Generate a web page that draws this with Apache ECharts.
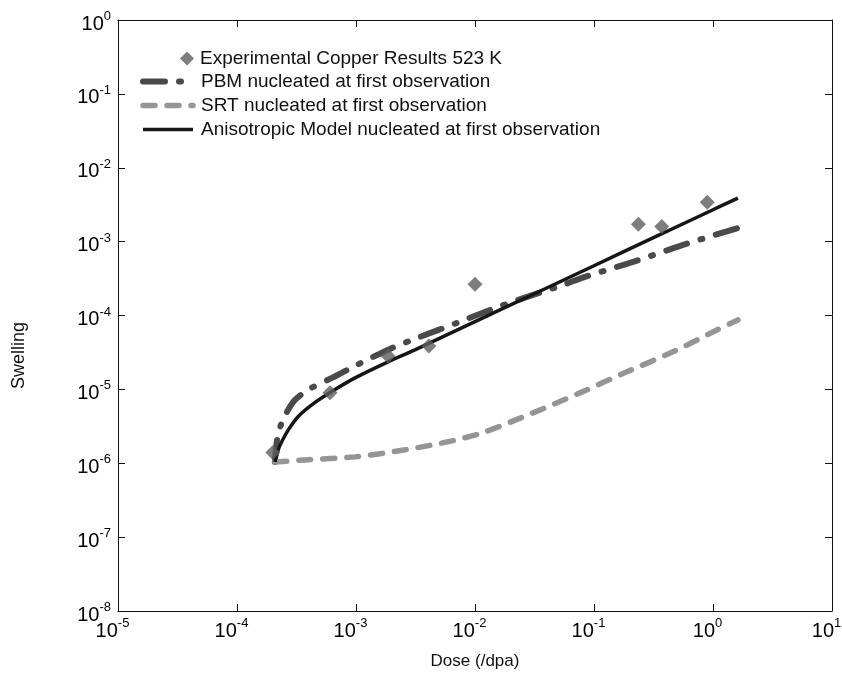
<!DOCTYPE html>
<html>
<head>
<meta charset="utf-8">
<script src="https://cdn.jsdelivr.net/npm/echarts@6/dist/echarts.min.js"></script>
<style>
  html, body { margin: 0; padding: 0; background: #fff; }
  #chart { width: 842px; height: 681px; }
</style>
</head>
<body>
<div id="chart"></div>
<script>
  // experimental points
  const expDose = [2.0e-4, 6.05e-4, 1.86e-3, 4.10e-3, 1.0e-2, 0.236, 0.371, 0.895];
  const expSwelling = [1.40e-6, 8.97e-6, 2.84e-5, 3.88e-5, 2.64e-4, 1.72e-3, 1.60e-3, 3.41e-3];

  // PBM model
  const pbmDose = [2.08e-4, 2.17e-4, 2.34e-4, 2.63e-4, 3.07e-4, 4.10e-4, 6.28e-4, 9.82e-4, 1.93e-3, 3.45e-3, 7.06e-3, 1.34e-2, 2.74e-2, 5.48e-2, 8.39e-2, 0.213, 0.560, 1.62];
  const pbmSwelling = [1.04e-6, 2.07e-6, 3.31e-6, 4.96e-6, 7.21e-6, 1.02e-5, 1.43e-5, 2.08e-5, 3.53e-5, 5.13e-5, 7.94e-5, 1.19e-4, 1.79e-4, 2.59e-4, 3.33e-4, 5.31e-4, 9.02e-4, 1.53e-3];

  // SRT model
  const srtDose = [2.08e-4, 3.72e-4, 9.82e-4, 2.58e-3, 6.41e-3, 1.21e-2, 3.07e-2, 7.62e-2, 0.189, 0.461, 1.08, 1.62];
  const srtSwelling = [1.04e-6, 1.11e-6, 1.22e-6, 1.52e-6, 2.01e-6, 2.66e-6, 4.81e-6, 8.97e-6, 1.73e-5, 3.22e-5, 6.38e-5, 8.71e-5];

  // anisotropic model
  const anisoDose = [2.08e-4, 2.22e-4, 2.38e-4, 2.70e-4, 3.27e-4, 4.25e-4, 6.25e-4, 9.82e-4, 1.86e-3, 3.16e-3, 1.0e-2, 3.16e-2, 0.1, 0.316, 1.0, 1.62];
  const anisoSwelling = [1.04e-6, 1.52e-6, 1.97e-6, 2.83e-6, 4.29e-6, 6.17e-6, 9.33e-6, 1.43e-5, 2.36e-5, 3.45e-5, 8.26e-5, 1.97e-4, 4.72e-4, 1.13e-3, 2.70e-3, 3.89e-3];

  const names = [
    'Experimental Copper Results 523 K',
    'PBM nucleated at first observation',
    'SRT nucleated at first observation',
    'Anisotropic Model nucleated at first observation'
  ];

  const FONT = '"Liberation Sans", Arial, sans-serif';

  const pbmStyle = { color: '#4a4a4a', width: 6, type: [22, 14, 2, 14], cap: 'round' };
  const srtStyle = { color: '#959595', width: 5.5, type: [12, 12], cap: 'round' };
  const anisoStyle = { color: '#161616', width: 3.5 };

  function pairs(xs, ys) {
    return xs.map((x, i) => [x, ys[i]]);
  }

  function powLabel(v) {
    return '{b|10}{e|' + Math.round(Math.log10(v)) + '}';
  }

  const richY = {
    b: { fontFamily: FONT, fontSize: 20, color: '#000', lineHeight: 20, padding: [8, 0, 0, 0] },
    e: { fontFamily: FONT, fontSize: 13, color: '#000', lineHeight: 12, verticalAlign: 'top' }
  };
  const richX = {
    b: { fontFamily: FONT, fontSize: 20, color: '#000', lineHeight: 20, padding: [8, 0, 0, 0] },
    e: { fontFamily: FONT, fontSize: 13, color: '#000', lineHeight: 12, verticalAlign: 'top', padding: [0, 11, 0, 0] }
  };

  const lineAxis = { show: true, lineStyle: { color: '#111', width: 1 } };
  const tickIn = { show: true, inside: true, length: 7, lineStyle: { color: '#111', width: 1 } };

  const chart = echarts.init(document.getElementById('chart'));
  chart.setOption({
    animation: false,
    grid: { left: 118, right: 10, top: 20, bottom: 70, containLabel: false, outerBoundsMode: 'none' },
    legend: [{
      data: [names[0]],
      left: 180, top: 49, padding: 0,
      itemWidth: 14, itemHeight: 14,
      selectedMode: false,
      textStyle: { fontFamily: FONT, fontSize: 19, lineHeight: 14, color: '#111', padding: [0, 0, 0, 1] }
    }, {
      data: [
        { name: names[1], lineStyle: { width: 6 } },
        { name: names[2], lineStyle: { width: 5.5 } },
        { name: names[3], lineStyle: { width: 3.5 } }
      ],
      orient: 'vertical',
      left: 140, top: 72, padding: 0,
      itemWidth: 50, itemHeight: 14, itemGap: 5,
      selectedMode: false,
      itemStyle: { opacity: 0 },
      textStyle: { fontFamily: FONT, fontSize: 19, lineHeight: 14, color: '#111', padding: [0, 0, 0, 3] }
    }],
    xAxis: [{
      type: 'log', logBase: 10, min: 1e-5, max: 10, splitNumber: 6,
      name: 'Dose (/dpa)', nameLocation: 'middle', nameGap: 42,
      nameTextStyle: { fontFamily: FONT, fontSize: 17, color: '#111' },
      axisLine: lineAxis, axisTick: tickIn,
      axisLabel: { margin: 6, formatter: powLabel, rich: richX, hideOverlap: false },
      splitLine: { show: false }
    }, {
      type: 'log', logBase: 10, min: 1e-5, max: 10, splitNumber: 6, position: 'top',
      axisLine: lineAxis, axisTick: tickIn,
      axisLabel: { show: false }, splitLine: { show: false }
    }],
    yAxis: [{
      type: 'log', logBase: 10, min: 1e-8, max: 1, splitNumber: 8,
      name: 'Swelling', nameLocation: 'middle', nameGap: 90,
      nameTextStyle: { fontFamily: FONT, fontSize: 18, color: '#111', padding: [0, 80, 0, 0] },
      axisLine: lineAxis, axisTick: tickIn,
      axisLabel: { margin: 7, formatter: powLabel, rich: richY, hideOverlap: false },
      splitLine: { show: false }
    }, {
      type: 'log', logBase: 10, min: 1e-8, max: 1, splitNumber: 8, position: 'right',
      axisLine: lineAxis, axisTick: tickIn,
      axisLabel: { show: false }, splitLine: { show: false }
    }],
    series: [{
      name: names[0],
      type: 'scatter',
      symbol: 'diamond',
      symbolSize: 15,
      itemStyle: { color: '#5e5e5e' },
      data: pairs(expDose, expSwelling),
      z: 5
    }, {
      name: names[1],
      type: 'line',
      symbol: 'none',
      smooth: 0.3,
      itemStyle: { color: pbmStyle.color },
      lineStyle: pbmStyle,
      data: pairs(pbmDose, pbmSwelling)
    }, {
      name: names[2],
      type: 'line',
      symbol: 'none',
      smooth: 0.3,
      itemStyle: { color: srtStyle.color },
      lineStyle: srtStyle,
      data: pairs(srtDose, srtSwelling)
    }, {
      name: names[3],
      type: 'line',
      symbol: 'none',
      smooth: 0.3,
      itemStyle: { color: anisoStyle.color },
      lineStyle: anisoStyle,
      data: pairs(anisoDose, anisoSwelling)
    }]
  });
</script>
</body>
</html>
